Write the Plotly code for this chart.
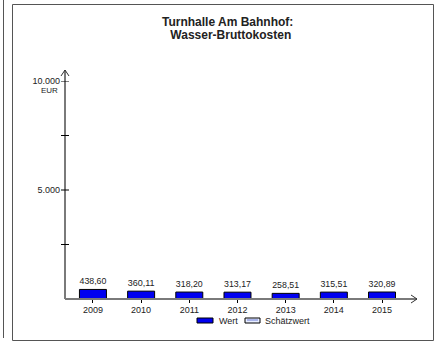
import plotly.graph_objects as go

years = ["2009", "2010", "2011", "2012", "2013", "2014", "2015"]
wert = [438.60, 360.11, 318.20, 313.17, 258.51, 315.51, 320.89]
schaetzwert = [None, None, None, None, None, None, None]
y_tickvals = [5000, 10000]
y_ticktext = ["5.000", "10.000"]
y_minor = [2500, 5000, 7500, 10000]

W, H = 440, 343
L, R, T, B = 65, 23, 81, 44
PW, PH = W - L - R, H - T - B


def px(x):
    return (x - L) / PW


def py(y):
    return (H - B - y) / PH


FONT = "Liberation Sans, Arial, sans-serif"
TXT = "#222222"
AX = "#7a7a7a"

fig = go.Figure()
fig.add_trace(go.Bar(
    x=list(range(len(years))), y=wert, name="Wert", width=0.56,
    marker=dict(color="#0000f0", line=dict(color="#000000", width=1)),
    texttemplate="%{y:.2f}", textposition="outside", cliponaxis=False,
    textfont=dict(size=9, color=TXT, family=FONT),
))
fig.add_trace(go.Bar(
    x=list(range(len(years))), y=schaetzwert, name="Schätzwert", width=0.56,
    marker=dict(color="#dfe6ff", line=dict(color="#000000", width=1)),
))

shapes = []
# outer frame and left line
shapes.append(dict(type="rect", xref="paper", yref="paper", x0=px(12.5), x1=px(433.5), y0=py(340.5), y1=py(4.5),
                   line=dict(color="#555555", width=1)))
shapes.append(dict(type="line", xref="paper", yref="paper", x0=px(3.5), x1=px(3.5), y0=py(0), y1=py(338),
                   line=dict(color="#555555", width=1)))
# axes with arrows
shapes.append(dict(type="line", xref="paper", yref="paper", x0=0, x1=0, y0=0, y1=py(70),
                   line=dict(color=AX, width=2)))
shapes.append(dict(type="path", xref="paper", yref="paper",
                   path=f"M {px(61)} {py(76)} L {px(65)} {py(70)} L {px(69)} {py(76)}",
                   line=dict(color="#333333", width=1)))
shapes.append(dict(type="line", xref="paper", yref="paper", x0=0, x1=px(417), y0=0, y1=0,
                   line=dict(color=AX, width=2)))
shapes.append(dict(type="path", xref="paper", yref="paper",
                   path=f"M {px(411)} {py(295)} L {px(417)} {py(299)} L {px(411)} {py(303)}",
                   line=dict(color="#333333", width=1)))
for v in y_minor:
    shapes.append(dict(type="line", xref="paper", yref="y", x0=px(61), x1=px(69), y0=v, y1=v,
                       line=dict(color="#000000", width=1)))
# legend
shapes.append(dict(type="rect", xref="paper", yref="paper", x0=px(197), x1=px(213), y0=py(323), y1=py(318),
                   fillcolor="#0000f0", line=dict(color="#000000", width=1)))
shapes.append(dict(type="rect", xref="paper", yref="paper", x0=px(245), x1=px(260), y0=py(323), y1=py(318),
                   fillcolor="#e8eeff", line=dict(color="#000000", width=1)))
shapes.append(dict(type="line", xref="paper", yref="paper", x0=px(247), x1=px(258), y0=py(320), y1=py(320),
                   line=dict(color="#6b7bd6", width=1)))

annotations = [
    dict(text="<b>Turnhalle Am Bahnhof:</b>", xref="paper", yref="paper", x=px(227), y=py(22),
         showarrow=False, font=dict(size=12, color=TXT, family=FONT), xanchor="center", yanchor="middle"),
    dict(text="<b> Wasser-Bruttokosten</b>", xref="paper", yref="paper", x=px(229), y=py(35),
         showarrow=False, font=dict(size=12, color=TXT, family=FONT), xanchor="center", yanchor="middle"),
    dict(text="EUR", xref="paper", yref="paper", x=px(60), y=py(90),
         showarrow=False, font=dict(size=8, color=TXT, family=FONT), xanchor="right", yanchor="middle"),
    dict(text="Wert", xref="paper", yref="paper", x=px(217), y=py(321),
         showarrow=False, font=dict(size=9, color=TXT, family=FONT), xanchor="left", yanchor="middle"),
    dict(text="Schätzwert", xref="paper", yref="paper", x=px(263), y=py(321),
         showarrow=False, font=dict(size=9, color=TXT, family=FONT), xanchor="left", yanchor="middle"),
]

fig.update_layout(
    width=W, height=H, margin=dict(l=L, r=R, t=T, b=B, pad=0),
    paper_bgcolor="white", plot_bgcolor="white",
    separators=",.", barmode="overlay", showlegend=False,
    font=dict(family=FONT, size=9, color=TXT),
    shapes=shapes, annotations=annotations,
    xaxis=dict(range=[-0.58, 6.726], tickvals=list(range(len(years))), ticktext=years,
               showgrid=False, zeroline=False, showline=False,
               ticks="outside", ticklen=3, tickcolor="#000000", tickwidth=1,
               ticklabelstandoff=-1,
               tickfont=dict(size=9, color=TXT, family=FONT)),
    yaxis=dict(range=[0, 10000], tickvals=y_tickvals, ticktext=y_ticktext,
               showgrid=False, zeroline=False, showline=False, ticks="",
               ticklabelstandoff=4,
               tickfont=dict(size=9, color=TXT, family=FONT)),
)

fig.write_html("out.html", config={"displayModeBar": False},
               post_script="document.body.style.margin='0';document.body.style.overflow='hidden';")
